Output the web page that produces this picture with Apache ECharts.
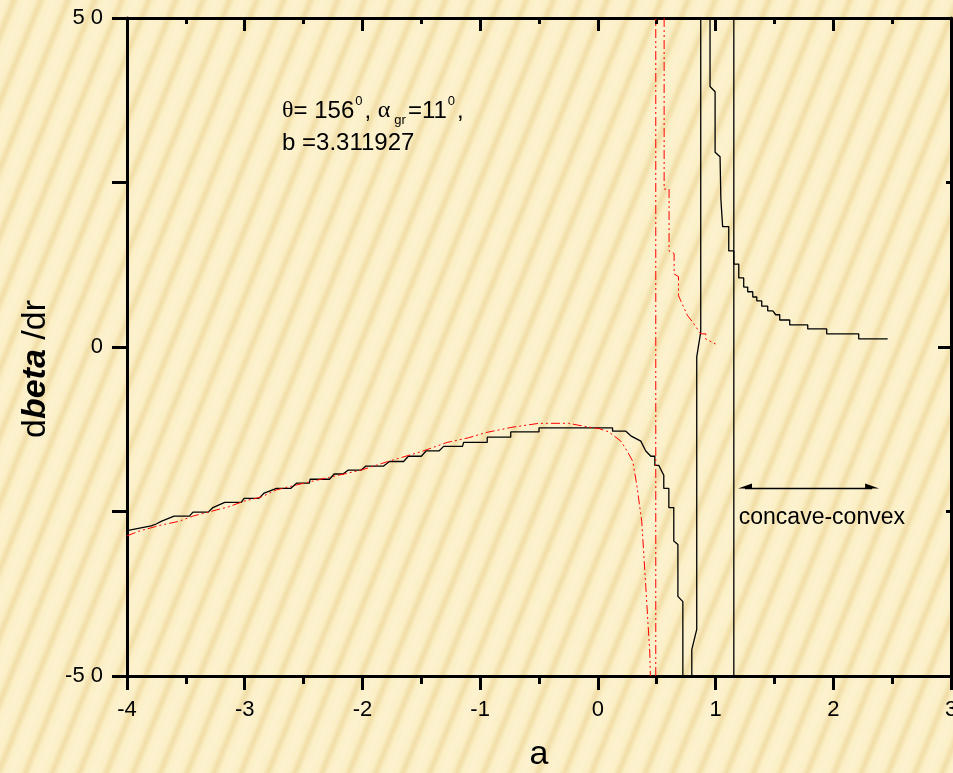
<!DOCTYPE html>
<html>
<head>
<meta charset="utf-8">
<script src="https://cdn.jsdelivr.net/npm/echarts@6/dist/echarts.min.js"></script>
<style>
html, body { margin: 0; padding: 0; width: 953px; height: 773px; overflow: hidden; }
body {
  background: repeating-linear-gradient(112deg, #fcf2cf 0px, #fbefc6 8px, #f1dda6 13px, #fbefc6 18px, #fcf2cf 25px);
}
#chart { width: 953px; height: 773px; }
</style>
</head>
<body>
<div id="chart"></div>
<script>
// ---- tick labels ----
const xTickLabels = ['-4', '-3', '-2', '-1', '0', '1', '2', '3'];
const yTickValues = [-50, 0, 50];
const yTickLabels = ['-5 0', '0', '5 0'];

// ---- black curve (solid): [a, dbeta/dr] ----
const blackLeft = [
  [-4.0, -27.9], [-3.795, -27.2], [-3.752, -26.9], [-3.71, -26.5], [-3.60, -25.7], [-3.47, -25.7],
  [-3.44, -25.1], [-3.31, -25.1], [-3.27, -24.4], [-3.17, -23.6], [-3.03, -23.6], [-3.005, -23.0],
  [-2.88, -23.0], [-2.835, -22.2], [-2.73, -21.5], [-2.61, -21.5], [-2.56, -20.7], [-2.45, -20.7],
  [-2.445, -20.1], [-2.28, -20.1], [-2.24, -19.3], [-2.165, -19.3], [-2.12, -18.7], [-2.01, -18.7],
  [-1.97, -18.1], [-1.82, -18.1], [-1.77, -17.4], [-1.65, -17.4], [-1.61, -16.6], [-1.50, -16.6],
  [-1.46, -15.8], [-1.35, -15.8], [-1.31, -15.1], [-1.15, -15.1], [-1.14, -14.5], [-0.94, -14.5],
  [-0.94, -13.7], [-0.74, -13.7], [-0.74, -12.9], [-0.50, -12.9], [-0.50, -12.3], [0.125, -12.3],
  [0.125, -12.8], [0.238, -12.8], [0.28, -13.5], [0.365, -14.3], [0.407, -15.8], [0.45, -16.6],
  [0.484, -16.6], [0.484, -18.0], [0.518, -18.0], [0.56, -19.5], [0.56, -21.5], [0.603, -21.5],
  [0.603, -24.4], [0.645, -24.4], [0.645, -29.5], [0.68, -30.0], [0.68, -37.9], [0.722, -38.7],
  [0.722, -50]
];
const blackMid = [
  [0.798, -50], [0.798, -46.0], [0.84, -42.9], [0.84, -1.5], [0.874, 2.3], [0.874, 50]
];
const blackRight = [
  [0.953, 50], [0.953, 39.6], [0.996, 38.8], [0.996, 29.6], [1.038, 28.9], [1.045, 22.5],
  [1.06, 22.5], [1.06, 18.3], [1.112, 18.3], [1.112, 14.6], [1.155, 14.6], [1.155, 12.6],
  [1.197, 12.6], [1.197, 10.5], [1.239, 10.5], [1.239, 9.1], [1.273, 9.1], [1.273, 8.4],
  [1.316, 8.4], [1.316, 7.6], [1.35, 7.6], [1.35, 7.0], [1.392, 7.0], [1.392, 6.2],
  [1.443, 6.2], [1.443, 5.5], [1.486, 5.5], [1.511, 4.9], [1.545, 4.9], [1.545, 4.1],
  [1.63, 4.1], [1.63, 3.35], [1.783, 3.35], [1.783, 2.74], [1.944, 2.74], [1.944, 2.0],
  [2.216, 2.0], [2.216, 1.22], [2.462, 1.22]
];
const markerLine = [[1.155, -50], [1.155, 50]];

// ---- red curve (dash-dot-dot) ----
const redLeft = [
  [-4.0, -28.7], [-3.9, -28.0], [-3.72, -27.1], [-3.56, -26.5], [-3.44, -25.7], [-3.14, -24.3],
  [-3.0, -23.4], [-2.86, -22.8], [-2.73, -21.7], [-2.45, -20.5], [-2.28, -19.8], [-2.01, -18.7],
  [-1.8, -17.5], [-1.5, -15.9], [-1.28, -14.5], [-1.1, -13.8], [-0.95, -13.0], [-0.73, -12.2],
  [-0.5, -11.6], [-0.25, -11.6], [-0.1, -12.1], [0.01, -12.4], [0.093, -12.9], [0.195, -14.3],
  [0.255, -16.0], [0.297, -17.4], [0.33, -20.9], [0.373, -26.5], [0.407, -36.4], [0.441, -46.4],
  [0.446, -50]
];
const redAsymptote = [[0.492, -50], [0.492, 50]];
const redRight = [
  [0.563, 50], [0.563, 24.0], [0.605, 24.0], [0.605, 14.6], [0.648, 14.2], [0.648, 11.1],
  [0.685, 10.7], [0.685, 7.8], [0.705, 7.0], [0.761, 4.8], [0.804, 3.8], [0.874, 2.0],
  [0.917, 2.0], [0.917, 1.2], [1.0, 0.46]
];

// ---- annotations ----
const arrowFrom = [1.25, -21.5];
const arrowTo = [2.33, -21.5];
const regionLabelAt = [1.197, -26.0];
const regionLabel = 'concave-convex';

const SANS = '"Liberation Sans", Arial, sans-serif';
const SERIF = '"Liberation Serif", "Times New Roman", serif';
const RED_DASH = [9, 3, 2, 3, 2, 3];

const chart = echarts.init(document.getElementById('chart'), null, { renderer: 'canvas' });

function blackSeries(data, extra) {
  return Object.assign({
    type: 'line', data: data, showSymbol: false, symbol: 'none', silent: true, clip: true,
    lineStyle: { color: '#000', width: 1.3 }, z: 3
  }, extra || {});
}
function redSeries(data) {
  return {
    type: 'line', data: data, showSymbol: false, symbol: 'none', silent: true, clip: true,
    lineStyle: { color: '#ff0000', width: 1, type: RED_DASH }, z: 4
  };
}

const startHalfArrow = 'path://M0,0 L1,3 L0,3 Z M-1,3 L-1,3 Z';
const endHalfArrow = 'path://M0,0 L-1,3 L0,3 Z M1,3 L1,3 Z';

chart.setOption({
  backgroundColor: 'transparent',
  animation: false,
  title: {
    left: 282, top: 95, padding: 0,
    text: '{t|θ}{n|= 156}{sup|0}{n|, }{t|α}{sub|gr}{n|=11}{sup|0}{n|,}\n{n|b =3.311927}',
    textStyle: {
      fontWeight: 'normal',
      rich: {
        n: { fontFamily: SANS, fontSize: 24, fontWeight: 'normal', color: '#000', lineHeight: 32 },
        t: { fontFamily: SERIF, fontSize: 24, fontWeight: 'normal', color: '#000', lineHeight: 32 },
        sup: { fontFamily: SANS, fontSize: 13, fontWeight: 'normal', color: '#000', verticalAlign: 'top', lineHeight: 16, padding: [0, 2, 0, 1] },
        sub: { fontFamily: SANS, fontSize: 13, fontWeight: 'normal', color: '#000', verticalAlign: 'bottom', lineHeight: 4, padding: [0, 2, 0, 4] }
      }
    }
  },
  grid: { left: 127, right: 2, top: 18, bottom: 97, containLabel: false, outerBoundsMode: 'none' },
  xAxis: [
    {
      type: 'value', position: 'bottom', min: -4, max: 3, interval: 1,
      name: 'a', nameLocation: 'middle', nameGap: 62,
      nameTextStyle: { fontFamily: SANS, fontSize: 34, color: '#000' },
      axisLine: { show: true, onZero: false, lineStyle: { color: '#000', width: 3 } },
      axisTick: { show: true, inside: false, length: 14, lineStyle: { color: '#000', width: 3 } },
      minorTick: { show: true, splitNumber: 2, length: 8, lineStyle: { color: '#000', width: 3 } },
      axisLabel: {
        margin: 23, fontFamily: SANS, fontSize: 22, color: '#000', hideOverlap: false,
        formatter: function (v) { const i = Math.round(v + 4); return xTickLabels[i] !== undefined ? xTickLabels[i] : ''; }
      },
      splitLine: { show: false }
    },
    {
      type: 'value', position: 'top', min: -4, max: 3, interval: 1,
      axisLine: { show: true, onZero: false, lineStyle: { color: '#000', width: 3 } },
      axisTick: { show: true, inside: true, length: 13, lineStyle: { color: '#000', width: 3 } },
      minorTick: { show: true, splitNumber: 2, length: 6, lineStyle: { color: '#000', width: 3 } },
      axisLabel: { show: false },
      splitLine: { show: false }
    }
  ],
  yAxis: [
    {
      type: 'value', position: 'left', min: -50, max: 50, interval: 25,
      name: '{r|d}{b|beta}{r| /dr}', nameLocation: 'middle', nameGap: 74, nameRotate: 90,
      nameTextStyle: {
        padding: [0, 44, 0, 0],
        rich: {
          r: { fontFamily: SANS, fontSize: 34, color: '#000' },
          b: { fontFamily: SANS, fontSize: 34, color: '#000', fontWeight: 'bold', fontStyle: 'italic' }
        }
      },
      axisLine: { show: true, onZero: false, lineStyle: { color: '#000', width: 3 } },
      axisTick: { show: true, inside: false, length: 15, lineStyle: { color: '#000', width: 3 } },
      axisLabel: {
        margin: 24, fontFamily: SANS, fontSize: 22, color: '#000',
        formatter: function (v) { const i = yTickValues.indexOf(v); return i >= 0 ? yTickLabels[i] : ''; }
      },
      splitLine: { show: false }
    },
    {
      type: 'value', position: 'right', min: -50, max: 50, interval: 50,
      axisLine: { show: true, onZero: false, lineStyle: { color: '#000', width: 3 } },
      axisTick: { show: true, inside: true, length: 13, lineStyle: { color: '#000', width: 3 } },
      minorTick: { show: true, splitNumber: 2, length: 5, lineStyle: { color: '#000', width: 3 } },
      axisLabel: { show: false },
      splitLine: { show: false }
    }
  ],
  series: [
    blackSeries(blackLeft),
    blackSeries(blackMid),
    blackSeries(blackRight, {
      markLine: {
        silent: true, symbol: [startHalfArrow, endHalfArrow], symbolSize: [10, 14],
        lineStyle: { color: '#000', width: 1.3, type: 'solid' },
        label: { show: false },
        data: [[{ coord: arrowFrom }, { coord: arrowTo }]]
      }
    }),
    blackSeries(markerLine, {
      markPoint: {
        silent: true, symbol: 'circle', symbolSize: 0,
        label: {
          show: true, position: 'right', distance: 0, formatter: regionLabel,
          fontFamily: SANS, fontSize: 23, color: '#000'
        },
        data: [{ coord: regionLabelAt }]
      }
    }),
    redSeries(redLeft),
    redSeries(redAsymptote),
    redSeries(redRight)
  ]
});
</script>
</body>
</html>
